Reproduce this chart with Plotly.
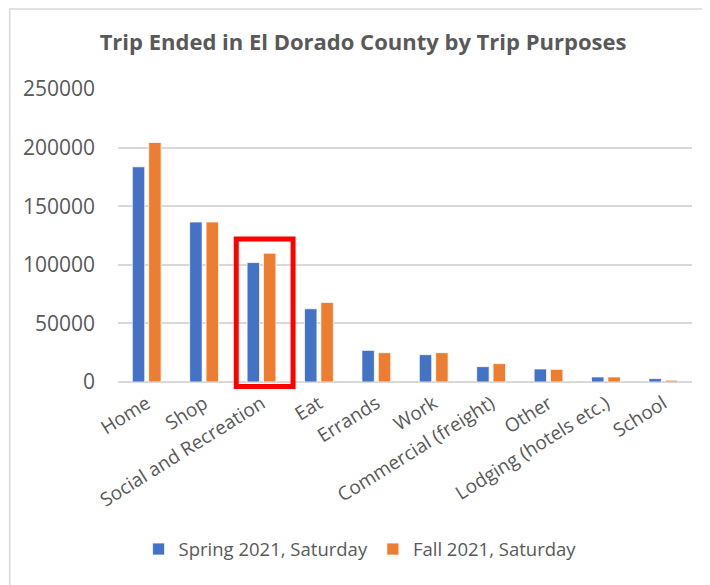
import plotly.graph_objects as go

categories = ["Home", "Shop", "Social and Recreation", "Eat", "Errands", "Work",
              "Commercial (freight)", "Other", "Lodging (hotels etc.)", "School"]
spring_2021 = [183600, 136500, 101900, 62500, 27000, 23300, 13100, 11100, 4300, 2900]
fall_2021 = [204400, 136500, 109900, 67900, 25000, 25000, 15700, 10800, 4300, 1500]
y_ticks = [0, 50000, 100000, 150000, 200000, 250000]
highlight = "Social and Recreation"

FONT = "Open Sans"
TXT = "#595959"
W, H = 710, 585
OFF = 8  # page body margin offset
ML, MT = 117.5 - OFF, 89 - OFF
PW, PH = 575, 293.3
MR = W - ML - PW
MB = H - MT - PH
YMAX = 250000

fig = go.Figure()
fig.add_trace(go.Bar(name="Spring 2021, Saturday", x=categories, y=spring_2021,
                     marker=dict(color="#4472C4", line=dict(color="white", width=0.75))))
fig.add_trace(go.Bar(name="Fall 2021, Saturday", x=categories, y=fall_2021,
                     marker=dict(color="#ED7D31", line=dict(color="white", width=0.75))))

# red highlight box around selected category
idx = categories.index(highlight)
n = len(categories)
top = max(spring_2021[idx], fall_2021[idx]) * 1.11
fig.add_shape(type="rect", xref="paper", yref="paper",
              x0=(idx - 0.44 + 0.5) / n, x1=(idx + 0.55 + 0.5) / n,
              y0=-3800 / YMAX, y1=top / YMAX,
              line=dict(color="#FF0000", width=5), fillcolor="rgba(0,0,0,0)")

# chart border (light gray), cropped on right/bottom like the reference
fig.add_shape(type="rect", xref="paper", yref="paper",
              x0=(1 - ML) / PW, x1=(W + 20 - ML) / PW,
              y0=(-(H + 20) + MT + PH) / PH, y1=(MT + PH - 1) / PH,
              line=dict(color="#D9D9D9", width=1.5), fillcolor="rgba(0,0,0,0)", layer="below")

fig.update_layout(
    width=W, height=H,
    margin=dict(l=ML, r=MR, t=MT, b=MB, pad=0),
    paper_bgcolor="white", plot_bgcolor="white",
    barmode="group", bargap=0.43, bargroupgap=0.24,
    font=dict(family=FONT, color=TXT, size=18),
    title=dict(text="<b>Trip Ended in El Dorado County by Trip Purposes</b>",
               x=(363 - OFF) / W, xanchor="center", y=1 - (42 - OFF) / H, yanchor="middle",
               font=dict(family=FONT, size=22, color=TXT)),
    legend=dict(orientation="h", x=(360 - OFF - ML) / PW, xanchor="center",
                y=-(550 - 89 - PH) / PH, yanchor="middle",
                font=dict(family=FONT, size=18.5, color=TXT), itemwidth=30,
                traceorder="normal"),
    showlegend=True,
)
fig.update_xaxes(tickangle=-32, tickfont=dict(family=FONT, size=19, color=TXT),
                 showline=False, ticks="", showgrid=False, ticklabelstandoff=6)
fig.update_yaxes(range=[0, YMAX], tickvals=y_ticks, ticktext=[str(v) for v in y_ticks],
                 showgrid=True, gridcolor="#D9D9D9", gridwidth=1.5,
                 zeroline=True, zerolinecolor="#D9D9D9", zerolinewidth=1.5,
                 showline=False, ticks="", ticklabelstandoff=22,
                 tickfont=dict(family=FONT, size=21, color=TXT))

fig.write_html("out.html")
